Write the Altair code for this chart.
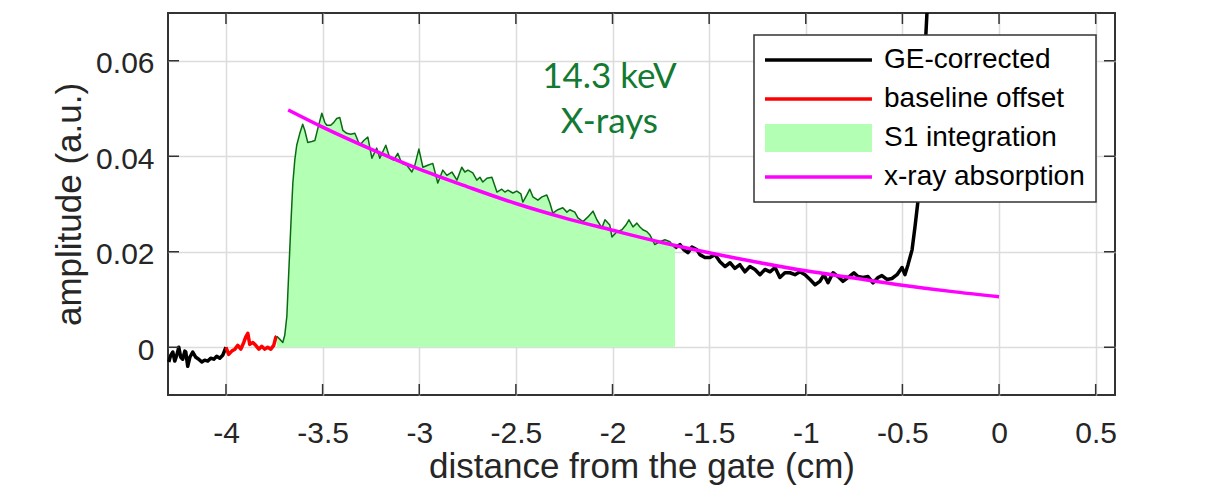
import altair as alt
import pandas as pd

# ---------------- data ----------------
# GE-corrected trace before the baseline window
pre_x = [-4.296, -4.286, -4.275, -4.265, -4.255, -4.244, -4.234, -4.224, -4.213, -4.208,
         -4.198, -4.187, -4.172, -4.156, -4.141, -4.125, -4.110, -4.094, -4.079, -4.063,
         -4.048, -4.032, -4.017, -4.000]
pre_y = [-0.0031, -0.0017, -0.0010, -0.0029, -0.0017, 0.0000, -0.0021, -0.0025, -0.0008, -0.0010,
         -0.0040, -0.0021, -0.0010, -0.0021, -0.0025, -0.0031, -0.0027, -0.0029, -0.0023, -0.0025,
         -0.0019, -0.0023, -0.0017, 0.0000]

# baseline offset window (red)
base_x = [-4.000, -3.986, -3.970, -3.954, -3.939, -3.923, -3.908, -3.898, -3.887, -3.877,
          -3.861, -3.846, -3.830, -3.815, -3.799, -3.784, -3.768, -3.753, -3.742, -3.737]
base_y = [0.0000, -0.0015, -0.0008, -0.0004, 0.0004, -0.0004, 0.0010, 0.0021, 0.0029, 0.0006,
          0.0010, 0.0004, -0.0004, 0.0002, -0.0004, 0.0000, -0.0004, 0.0004, 0.0021, 0.0023]

# S1 integration region (green)
s1_x = [-3.737, -3.722, -3.706, -3.696, -3.685, -3.678, -3.670, -3.662, -3.654, -3.644,
        -3.634, -3.618, -3.603, -3.592, -3.577, -3.556, -3.540, -3.525, -3.504, -3.489,
        -3.478, -3.458, -3.442, -3.427, -3.411, -3.395, -3.375, -3.354, -3.333, -3.308,
        -3.287, -3.266, -3.245, -3.220, -3.204, -3.173, -3.152, -3.132, -3.111, -3.090,
        -3.064, -3.038, -3.023, -3.002, -2.981, -2.956, -2.930, -2.904, -2.878, -2.857,
        -2.831, -2.805, -2.780, -2.764, -2.748, -2.723, -2.702, -2.686, -2.671, -2.650,
        -2.624, -2.598, -2.573, -2.557, -2.541, -2.516, -2.495, -2.474, -2.464, -2.443,
        -2.428, -2.412, -2.386, -2.365, -2.340, -2.324, -2.309, -2.283, -2.257, -2.236,
        -2.221, -2.195, -2.179, -2.153, -2.127, -2.101, -2.081, -2.055, -2.039, -2.014,
        -2.003, -1.977, -1.951, -1.931, -1.915, -1.894, -1.874, -1.858, -1.843, -1.822,
        -1.806, -1.781, -1.755, -1.729, -1.703, -1.677]
s1_y = [0.0023, 0.0017, 0.0010, 0.0025, 0.0065, 0.0131, 0.0204, 0.0277, 0.0344, 0.0392,
        0.0423, 0.0448, 0.0467, 0.0454, 0.0429, 0.0431, 0.0433, 0.0458, 0.0490, 0.0471,
        0.0465, 0.0465, 0.0471, 0.0479, 0.0481, 0.0454, 0.0448, 0.0446, 0.0448, 0.0423,
        0.0433, 0.0440, 0.0396, 0.0417, 0.0396, 0.0423, 0.0396, 0.0392, 0.0406, 0.0385,
        0.0381, 0.0367, 0.0381, 0.0415, 0.0377, 0.0381, 0.0385, 0.0344, 0.0371, 0.0360,
        0.0367, 0.0350, 0.0377, 0.0367, 0.0371, 0.0365, 0.0350, 0.0356, 0.0346, 0.0354,
        0.0356, 0.0325, 0.0331, 0.0325, 0.0329, 0.0323, 0.0327, 0.0321, 0.0304, 0.0319,
        0.0331, 0.0315, 0.0308, 0.0315, 0.0319, 0.0302, 0.0281, 0.0288, 0.0292, 0.0283,
        0.0288, 0.0283, 0.0271, 0.0263, 0.0273, 0.0285, 0.0267, 0.0250, 0.0267, 0.0256,
        0.0231, 0.0242, 0.0246, 0.0256, 0.0267, 0.0252, 0.0260, 0.0252, 0.0246, 0.0242,
        0.0235, 0.0215, 0.0221, 0.0225, 0.0221, 0.0208]

# GE-corrected trace after the S1 window
post_x = [-1.677, -1.651, -1.630, -1.610, -1.589, -1.563, -1.548, -1.522, -1.496, -1.470,
          -1.444, -1.418, -1.392, -1.367, -1.341, -1.315, -1.289, -1.263, -1.237, -1.211,
          -1.185, -1.159, -1.134, -1.108, -1.082, -1.056, -1.030, -1.004, -0.978, -0.952,
          -0.927, -0.906, -0.885, -0.859, -0.833, -0.808, -0.782, -0.751, -0.730, -0.704,
          -0.678, -0.652, -0.626, -0.606, -0.580, -0.554, -0.528, -0.502, -0.487, -0.471,
          -0.450, -0.435, -0.419, -0.404, -0.388, -0.373, -0.362]
post_y = [0.0208, 0.0215, 0.0204, 0.0198, 0.0210, 0.0204, 0.0194, 0.0188, 0.0188, 0.0194,
          0.0179, 0.0169, 0.0177, 0.0165, 0.0173, 0.0158, 0.0169, 0.0163, 0.0152, 0.0163,
          0.0158, 0.0167, 0.0146, 0.0156, 0.0156, 0.0152, 0.0158, 0.0152, 0.0142, 0.0131,
          0.0138, 0.0152, 0.0135, 0.0156, 0.0148, 0.0138, 0.0146, 0.0156, 0.0148, 0.0146,
          0.0148, 0.0135, 0.0146, 0.0150, 0.0142, 0.0144, 0.0152, 0.0167, 0.0152, 0.0173,
          0.0204, 0.0252, 0.0308, 0.0433, 0.0579, 0.0700, 0.0788]

# x-ray absorption fit (magenta)
fit_x = [-3.678, -3.5, -3.25, -3.0, -2.75, -2.5, -2.25, -2.0, -1.75, -1.5,
         -1.25, -1.0, -0.75, -0.5, -0.25, 0.0]
fit_y = [0.0497, 0.0461, 0.0415, 0.0373, 0.0336, 0.0301, 0.0271, 0.0245, 0.0220, 0.0198,
         0.0178, 0.0160, 0.0145, 0.0130, 0.0117, 0.0106]

# annotation
ann_text = ["14.3 keV", "X-rays"]
ann_x = [-2.016, -2.016]
ann_y = [0.0542, 0.0448]

# axes / legend
x_ticks = [-4, -3.5, -3, -2.5, -2, -1.5, -1, -0.5, 0, 0.5]
y_ticks = [0, 0.02, 0.04, 0.06]
series_names = ["GE-corrected", "baseline offset", "S1 integration", "x-ray absorption"]
series_colors = ["#000000", "#ff0000", "#b3ffb3", "#ff00ff"]

# ---------------- chart ----------------
W, H = 947, 382
AX = "#333333"
FONT = "Liberation Sans"
TICK = 11

x_scale = alt.Scale(domain=[-4.3, 0.6], nice=False, zero=False)
y_scale = alt.Scale(domain=[-0.01, 0.07], nice=False, zero=False)

x_axis = alt.Axis(
    values=x_ticks, title="distance from the gate (cm)", grid=True, ticks=False, tickSize=0,
    domain=False, labelExpr="replace(format(datum.value, '~g'), '\u2212', '-')",
    labelPadding=47, labelBaseline="alphabetic", labelFontSize=30,
    titleFontSize=35, titleBaseline="alphabetic", titleY=82, titleX=W / 2,
)
y_axis = alt.Axis(
    values=y_ticks, title="amplitude (a.u.)", grid=True, ticks=False, tickSize=0,
    domain=False, labelExpr="datum.value == 0 ? '0' : format(datum.value, '.2f')",
    labelPadding=14, labelBaseline="middle", labelOffset=3, labelFontSize=30,
    titleFontSize=35, titleBaseline="alphabetic", titleAngle=-90, titleX=-88, titleY=H / 2,
)


def X(field="x"):
    return alt.X(f"{field}:Q", scale=x_scale, axis=x_axis)


def Y(field="y"):
    return alt.Y(f"{field}:Q", scale=y_scale, axis=y_axis)


pre_df = pd.DataFrame({"x": pre_x, "y": pre_y})
base_df = pd.DataFrame({"x": base_x, "y": base_y})
s1_df = pd.DataFrame({"x": s1_x, "y": s1_y})
post_df = pd.DataFrame({"x": post_x, "y": post_y})
fit_df = pd.DataFrame({"x": fit_x, "y": fit_y})
ann_df = pd.DataFrame({"x": ann_x, "y": ann_y, "t": ann_text})
xt_df = pd.DataFrame({"v": x_ticks})
yt_df = pd.DataFrame({"v": y_ticks})
leg_df = pd.DataFrame({"series": series_names})

area = alt.Chart(s1_df).mark_area(color="#b3ffb3", opacity=1).encode(
    x=X(), y=Y(), y2=alt.datum(0)
)
pre_line = alt.Chart(pre_df).mark_line(
    color="#000000", strokeWidth=3.5, strokeJoin="round"
).encode(x=X(), y=Y())
base_line = alt.Chart(base_df).mark_line(
    color="#ff0000", strokeWidth=3.5, strokeJoin="round"
).encode(x=X(), y=Y())
s1_line = alt.Chart(s1_df).mark_line(
    color="#0a6a14", strokeWidth=1.5, strokeJoin="round"
).encode(x=X(), y=Y())
post_line = alt.Chart(post_df).mark_line(
    color="#000000", strokeWidth=3.5, strokeJoin="round", clip=True
).encode(x=X(), y=Y())
fit_line = alt.Chart(fit_df).mark_line(
    color="#ff00ff", strokeWidth=3.5, interpolate="monotone"
).encode(x=X(), y=Y())

ann = alt.Chart(ann_df).mark_text(
    font="Lato", fontSize=35, color="#127a32", align="center", baseline="alphabetic"
).encode(x=X(), y=Y(), text="t:N")

tick_style = dict(color=AX, strokeWidth=1.5)
xt_bottom = alt.Chart(xt_df).mark_rule(**tick_style).encode(
    x=X("v"), y=alt.value(H), y2=alt.value(H - TICK)
)
xt_top = alt.Chart(xt_df).mark_rule(**tick_style).encode(
    x=X("v"), y=alt.value(0), y2=alt.value(TICK)
)
yt_left = alt.Chart(yt_df).mark_rule(**tick_style).encode(
    y=Y("v"), x=alt.value(0), x2=alt.value(TICK)
)
yt_right = alt.Chart(yt_df).mark_rule(**tick_style).encode(
    y=Y("v"), x=alt.value(W), x2=alt.value(W - TICK)
)

line_sym = "M-1,-0.12L6.64,-0.12L6.64,0.12L-1,0.12Z"
patch_sym = "M-1,-1L6.64,-1L6.64,1L-1,1Z"
leg = alt.Legend(
    title=None, orient="none", legendX=586, legendY=22, padding=11,
    fillColor="white", strokeColor=AX, symbolSize=784, symbolStrokeWidth=0,
    symbolOpacity=1, labelFont=FONT, labelFontSize=28, labelColor="#000000",
    labelOffset=91, labelLimit=400, rowPadding=11, cornerRadius=0,
)
legend_layer = alt.Chart(leg_df).transform_filter("false").mark_point(
    filled=True, opacity=1
).encode(
    color=alt.Color("series:N", scale=alt.Scale(domain=series_names, range=series_colors),
                    legend=leg),
    shape=alt.Shape("series:N",
                    scale=alt.Scale(domain=series_names,
                                    range=[line_sym, line_sym, patch_sym, line_sym]),
                    legend=leg),
)

chart = alt.layer(
    area, pre_line, base_line, s1_line, post_line, fit_line, ann,
    xt_bottom, xt_top, yt_left, yt_right, legend_layer,
).properties(
    width=W, height=H,
    autosize=alt.AutoSizeParams(type="none"),
    padding={"left": 160, "top": 5, "right": 60, "bottom": 90},
).configure_view(
    stroke=AX, strokeWidth=2
).configure_axis(
    labelFont=FONT, titleFont=FONT, labelColor="#262626", titleColor="#262626",
    titleFontWeight="normal", gridColor="#dcdcdc", gridWidth=1.5,
).configure_legend(
    strokeWidth=1.5
)

chart.save("out.html", embed_options={"renderer": "svg", "actions": False})
